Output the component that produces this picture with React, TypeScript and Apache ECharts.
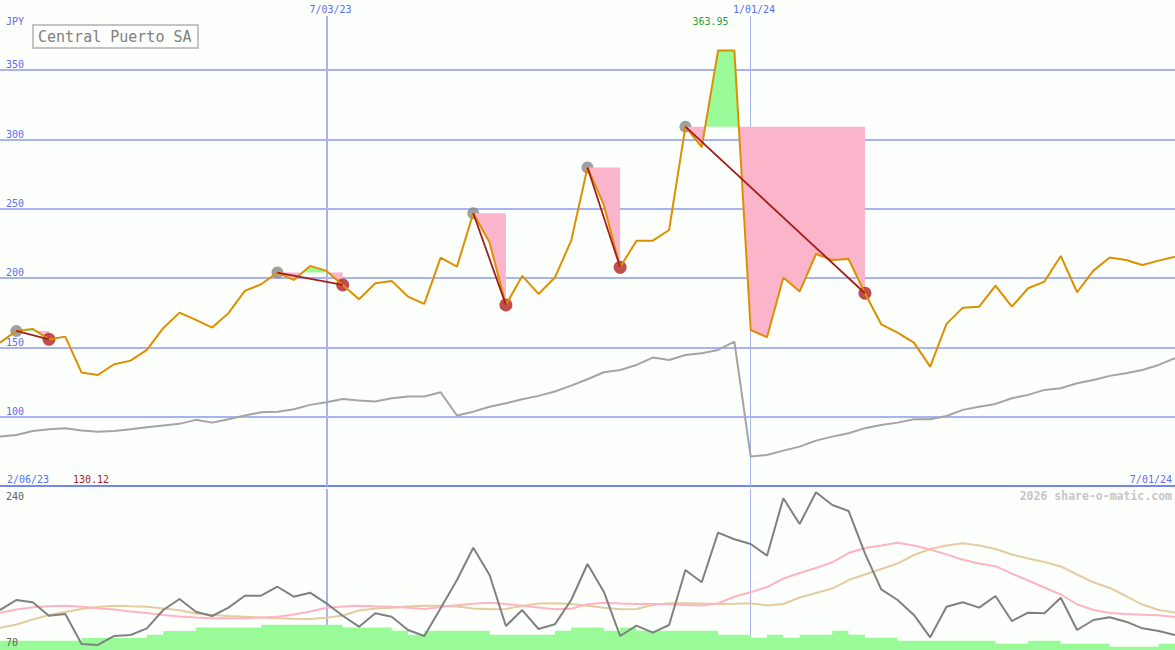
import React, { useEffect, useRef } from "react";
import * as echarts from "echarts";

// Weekly points, index 0 = week of 2/13/23 ... index 72 = 7/01/24
const price = [
  153.4, 161.8, 163.3, 155.8, 157.7, 131.8, 130.12, 137.8, 140.4, 148.1,
  163.8, 175.0, 169.8, 164.2, 174.6, 190.7, 195.5, 203.9, 198.6, 208.7,
  205.1, 195.0, 184.7, 196.2, 197.9, 186.6, 181.3, 214.7, 208.2, 246.7,
  225.5, 180.6, 201.5, 188.5, 200.3, 226.9, 279.7, 252.7, 207.7, 226.9,
  226.9, 234.6, 309.1, 294.3, 363.95, 363.95, 162.5, 157.3, 200.3, 190.2,
  217.3, 213.0, 213.7, 189.0, 166.6, 160.6, 153.4, 136.1, 166.9, 178.6,
  179.3, 194.5, 179.3, 192.6, 197.4, 215.9, 189.7, 205.3, 214.7, 213.0,
  209.4, 212.5, 215.4,
];

const benchmark = [
  85.6, 86.8, 89.7, 90.9, 91.7, 90.0, 89.2, 89.7, 90.9, 92.4,
  93.6, 94.8, 97.7, 95.7, 98.2, 100.8, 103.2, 103.6, 105.4, 108.5,
  110.4, 112.8, 111.6, 110.9, 113.3, 114.5, 114.5, 117.6, 100.8, 103.6,
  107.2, 109.7, 112.6, 115.0, 118.1, 122.4, 127.0, 132.0, 133.7, 137.3,
  142.6, 140.9, 144.5, 145.7, 148.1, 154.1, 71.2, 72.4, 75.5, 78.4,
  82.7, 85.6, 88.0, 91.7, 94.0, 95.7, 98.2, 98.2, 100.5, 104.9,
  107.2, 109.2, 113.3, 115.7, 119.3, 120.5, 124.1, 126.5, 129.4, 131.3,
  133.7, 137.3, 142.1,
];

const oscillator = [
  112.2, 122.8, 120.4, 106.2, 108.0, 76.3, 75.3, 84.8, 85.8, 92.9,
  112.2, 123.9, 110.4, 105.9, 114.7, 127.3, 127.3, 136.8, 126.3, 130.5,
  119.3, 106.2, 94.6, 108.8, 105.2, 91.1, 84.8, 114.0, 143.9, 178.0,
  149.2, 95.3, 112.2, 92.2, 97.1, 122.8, 160.8, 131.6, 84.8, 95.7,
  88.3, 96.4, 154.5, 141.5, 193.9, 186.9, 181.9, 169.6, 230.2, 203.0,
  236.5, 223.1, 216.8, 172.1, 134.1, 122.8, 107.0, 83.4, 115.7, 120.4,
  114.7, 127.0, 100.6, 109.4, 108.8, 125.2, 91.1, 101.7, 104.5, 99.9,
  92.9, 90.1, 85.8,
];

const maFast = [
  109.4, 112.8, 115.1, 116.1, 116.8, 115.7, 114.0, 112.8, 110.7, 109.1,
  107.0, 105.4, 104.3, 103.5, 103.5, 103.5, 104.3, 105.2, 107.5, 110.7,
  114.6, 115.9, 116.8, 116.2, 115.7, 114.7, 113.3, 115.4, 117.2, 118.8,
  119.9, 118.6, 116.8, 114.9, 113.0, 113.5, 118.4, 119.9, 119.1, 118.6,
  118.6, 118.3, 117.5, 117.0, 119.1, 126.5, 130.9, 136.5, 145.5, 151.3,
  156.6, 162.6, 172.4, 177.7, 180.3, 183.3, 180.3, 176.1, 171.0, 165.3,
  161.3, 158.5, 150.6, 143.4, 136.0, 128.6, 118.3, 112.2, 109.1, 108.0,
  107.3, 106.6, 104.8,
];

const maSlow = [
  93.5, 96.9, 102.2, 107.0, 110.1, 113.3, 115.4, 116.7, 116.1, 115.6,
  113.8, 112.0, 108.6, 107.0, 105.9, 105.2, 104.3, 103.5, 102.9, 102.7,
  104.0, 106.4, 111.7, 113.8, 114.6, 115.9, 116.8, 116.8, 115.9, 113.8,
  113.0, 113.3, 116.5, 119.1, 119.3, 118.6, 116.8, 114.6, 113.0, 113.3,
  117.5, 119.3, 119.3, 119.1, 118.6, 118.9, 119.3, 117.0, 118.6, 125.4,
  130.2, 134.9, 143.9, 149.7, 155.5, 161.3, 170.3, 176.6, 180.3, 182.6,
  180.3, 176.6, 170.8, 166.6, 162.9, 158.2, 149.7, 141.5, 135.5, 127.0,
  118.0, 112.2, 109.6,
];

const volume = [
  5.8, 5.8, 5.8, 5.8, 5.8, 7.5, 7.5, 7.5, 7.5, 9.5,
  11.8, 11.8, 13.9, 13.9, 13.9, 13.9, 15.7, 15.7, 15.7, 15.7,
  15.7, 13.9, 13.9, 13.9, 12.0, 9.5, 12.0, 12.0, 12.0, 12.0,
  9.5, 9.5, 9.5, 9.5, 12.0, 13.9, 13.9, 12.0, 13.9, 12.0,
  12.0, 12.0, 12.0, 12.0, 9.5, 9.5, 7.6, 9.5, 7.6, 9.5,
  9.5, 12.0, 9.5, 7.6, 7.6, 5.8, 5.8, 5.8, 5.8, 5.8,
  5.8, 3.9, 3.9, 5.8, 5.8, 3.9, 3.9, 3.9, 2.0, 2.0,
  2.0, 3.9, 3.9,
];

const buyIdx = [1, 17, 29, 36, 42];
const sellIdx = [3, 21, 31, 38, 53];

const dateLineIdx = [20, 46];
const dateLineLabels = ["7/03/23", "1/01/24"];
const startLabel = "2/06/23";
const endLabel = "7/01/24";
const yTickLabels = [100, 150, 200, 250, 300, 350];
const lowerTickLabels = [240, 70];
const currency = "JPY";
const title = "Central Puerto SA";
const credit = "2026 share-o-matic.com";

const MONO = "'DejaVu Sans Mono', 'Liberation Mono', monospace";
const BG = "#fcfffc";
const BLUE_TXT = "#5b6df0";
const GRID_C = "#a7b3f3";
const PINK = "#fbb5ca";
const GREEN = "#98fb98";

function fillPieces(b: number, s: number) {
  const level = price[b];
  const sgn = (v: number) => (v > level ? 1 : v < level ? -1 : 0);
  const pieces: { up: boolean; line: number[][] }[] = [];
  let sign = 0;
  let line: number[][] = [];
  for (let k = b; k <= s; k++) {
    const v = price[k];
    const sk = sgn(v);
    if (k === b) {
      line = [[k, v]];
      sign = sk;
      continue;
    }
    if (sign === 0) {
      sign = sk;
      line.push([k, v]);
      continue;
    }
    if (sk !== 0 && sk !== sign) {
      const pv = price[k - 1];
      const xc = k - 1 + (level - pv) / (v - pv);
      line.push([xc, level]);
      pieces.push({ up: sign > 0, line });
      line = [[xc, level]];
      sign = sk;
    }
    line.push([k, v]);
  }
  if (line.length > 1) pieces.push({ up: sign > 0, line });
  return pieces.map((p) => ({
    up: p.up,
    pts: [[p.line[0][0], level], ...p.line, [p.line[p.line.length - 1][0], level]],
  }));
}

export default function App() {
  const ref = useRef<HTMLDivElement>(null);

  useEffect(() => {
    if (!ref.current) return;
    const chart = echarts.init(ref.current, undefined, { renderer: "svg" });
    const idx = price.map((_, i) => i);
    const trades = buyIdx.map((b, k) => [b, sellIdx[k], price[b]]);
    const maxP = Math.max(...price);
    const minP = Math.min(...price);

    const txt = (text: string, x: number, y: number, fill: string, font: string, align = "left") => ({
      type: "text",
      x,
      y,
      z: 100,
      silent: true,
      style: { text, fill, font, align, verticalAlign: "middle" },
    });

    const option: any = {
      animation: false,
      backgroundColor: BG,
      grid: [
        { left: 0, right: 0, top: 16, height: 470 },
        { left: 0, right: 0, top: 489, height: 161 },
      ],
      xAxis: [
        {
          type: "value", gridIndex: 0, min: 0, max: 72,
          axisLine: { show: true, onZero: false, lineStyle: { color: "#7686f0", width: 2 } },
          axisTick: { show: false }, axisLabel: { show: false }, splitLine: { show: false },
        },
        {
          type: "value", gridIndex: 1, min: 0, max: 72,
          axisLine: { show: false }, axisTick: { show: false }, axisLabel: { show: false }, splitLine: { show: false },
        },
      ],
      yAxis: [
        {
          type: "value", gridIndex: 0, min: 50, max: 388.9, interval: 50,
          axisLine: { show: false }, axisTick: { show: false },
          axisLabel: {
            inside: true, margin: 6, verticalAlign: "bottom", color: BLUE_TXT,
            fontFamily: MONO, fontSize: 10,
            formatter: (v: number) => (yTickLabels.includes(v) ? String(v) : ""),
          },
          splitLine: { show: true, showMinLine: false, showMaxLine: false, lineStyle: { color: GRID_C, width: 2 } },
        },
        { type: "value", gridIndex: 1, min: 70, max: 240, show: false, splitLine: { show: false } },
        { type: "value", gridIndex: 1, min: 0, max: 100, show: false, splitLine: { show: false } },
      ],
      series: [
        {
          type: "line", xAxisIndex: 0, yAxisIndex: 0, z: 2,
          data: idx.map((i) => [i, benchmark[i]]),
          symbol: "none", lineStyle: { color: "#a4a4a4", width: 2 },
          markLine: {
            silent: true, symbol: "none", z: 1, label: { show: false },
            data: dateLineIdx.map((x, k) => ({ xAxis: x, lineStyle: { color: GRID_C, width: k === 0 ? 2 : 1, type: "solid" } })),
          },
        },
        {
          type: "scatter", xAxisIndex: 0, yAxisIndex: 0, z: 3,
          data: buyIdx.map((i) => [i, price[i]]),
          symbol: "circle", symbolSize: 12, itemStyle: { color: "#888888" },
        },
        {
          type: "custom", xAxisIndex: 0, yAxisIndex: 0, z: 4,
          data: trades, encode: { x: [0, 1], y: 2 },
          renderItem: (_p: any, api: any) => {
            const b = api.value(0) as number;
            const s = api.value(1) as number;
            const pcs = fillPieces(b, s);
            return {
              type: "group",
              children: pcs.map((pc) => ({
                type: "polygon",
                shape: { points: pc.pts.map((pt) => api.coord(pt)) },
                style: { fill: pc.up ? GREEN : PINK, stroke: "none" },
              })),
            };
          },
        },
        {
          type: "scatter", xAxisIndex: 0, yAxisIndex: 0, z: 5,
          data: sellIdx.map((i) => [i, price[i]]),
          symbol: "circle", symbolSize: 13, itemStyle: { color: "#b22222" },
        },
        {
          type: "line", xAxisIndex: 0, yAxisIndex: 0, z: 6,
          data: idx.map((i) => [i, price[i]]),
          symbol: "none", lineStyle: { color: "#dc9000", width: 2 },
        },
        {
          type: "custom", xAxisIndex: 0, yAxisIndex: 0, z: 7,
          data: trades, encode: { x: [0, 1], y: 2 },
          renderItem: (_p: any, api: any) => {
            const b = api.value(0) as number;
            const s = api.value(1) as number;
            const p1 = api.coord([b, price[b]]);
            const p2 = api.coord([s, price[s]]);
            return {
              type: "line",
              shape: { x1: p1[0], y1: p1[1], x2: p2[0], y2: p2[1] },
              style: { stroke: "#a41c1c", lineWidth: 1.8 },
            };
          },
        },
        // lower panel
        {
          type: "line", xAxisIndex: 1, yAxisIndex: 2, z: 3,
          data: idx.map((i) => [i, volume[i]]),
          step: "end", symbol: "none",
          lineStyle: { width: 0, color: GREEN },
          areaStyle: { color: GREEN, opacity: 1 },
        },
        {
          type: "line", xAxisIndex: 1, yAxisIndex: 1, z: 4,
          data: idx.map((i) => [i, maSlow[i]]),
          symbol: "none", lineStyle: { color: "#e3cc9f", width: 2 },
          markLine: {
            silent: true, symbol: "none", z: 1, label: { show: false },
            data: dateLineIdx.map((x, k) => ({ xAxis: x, lineStyle: { color: GRID_C, width: k === 0 ? 2 : 1, type: "solid" } })),
          },
        },
        {
          type: "line", xAxisIndex: 1, yAxisIndex: 1, z: 4,
          data: idx.map((i) => [i, maFast[i]]),
          symbol: "none", lineStyle: { color: "#ffb3c3", width: 2 },
        },
        {
          type: "line", xAxisIndex: 1, yAxisIndex: 1, z: 5,
          data: idx.map((i) => [i, oscillator[i]]),
          symbol: "none", lineStyle: { color: "#808080", width: 2 },
        },
      ],
      graphic: [
        txt(currency, 6, 21, BLUE_TXT, `10px ${MONO}`),
        {
          type: "rect", z: 99, silent: true,
          shape: { x: 33, y: 25, width: 165, height: 23 },
          style: { fill: BG, stroke: "#c4c4c4", lineWidth: 2 },
        },
        txt(title, 38, 37, "#808080", `15px ${MONO}`),
        txt(dateLineLabels[0], 330.5, 9, BLUE_TXT, `10px ${MONO}`, "center"),
        txt(dateLineLabels[1], 754, 9, BLUE_TXT, `10px ${MONO}`, "center"),
        txt(maxP.toFixed(2), 710.5, 21, "#2e9e2e", `10px ${MONO}`, "center"),
        txt(startLabel, 7, 479, BLUE_TXT, `10px ${MONO}`),
        txt(minP.toFixed(2), 73, 479, "#b02020", `10px ${MONO}`),
        txt(endLabel, 1172, 479, BLUE_TXT, `10px ${MONO}`, "right"),
        txt(credit, 1172, 496, "#c6c6c6", `bold 11.5px ${MONO}`, "right"),
        txt(String(lowerTickLabels[0]), 6, 496, "#606060", `10px ${MONO}`),
        txt(String(lowerTickLabels[1]), 6, 642, "#606060", `10px ${MONO}`),
      ],
    };

    chart.setOption(option);
    return () => chart.dispose();
  }, []);

  return (
    <div
      ref={ref}
      style={{ position: "fixed", left: 0, top: 0, width: 1175, height: 650 }}
    />
  );
}
